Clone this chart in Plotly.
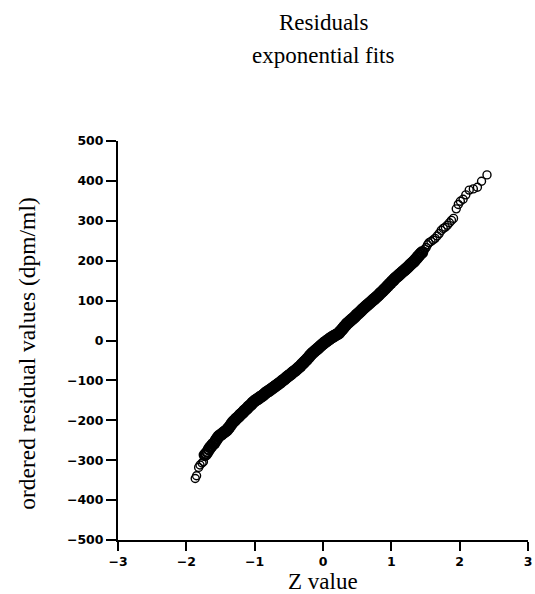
import plotly.graph_objects as go

# Ordered residuals vs normal Z value
z_values = [
    -1.87, -1.85, -1.82, -1.80, -1.77, -1.75,
    -1.73, -1.71, -1.69, -1.67, -1.65, -1.63, -1.61, -1.59, -1.57, -1.55,
    -1.53, -1.51, -1.49, -1.47, -1.45, -1.43, -1.41, -1.39, -1.37, -1.35,
    -1.33, -1.31, -1.29, -1.27, -1.25, -1.23, -1.21, -1.19, -1.17, -1.15,
    -1.13, -1.11, -1.09, -1.07, -1.05, -1.03, -1.01, -0.99, -0.97, -0.95,
    -0.93, -0.91, -0.89, -0.87, -0.85, -0.83, -0.81, -0.79, -0.77, -0.75,
    -0.73, -0.71, -0.69, -0.67, -0.65, -0.63, -0.61, -0.59, -0.57, -0.55,
    -0.53, -0.51, -0.49, -0.47, -0.45, -0.43, -0.41, -0.39, -0.37, -0.35,
    -0.33, -0.31, -0.29, -0.27, -0.25, -0.23, -0.21, -0.19, -0.17, -0.15,
    -0.13, -0.11, -0.09, -0.07, -0.05, -0.03, -0.01, 0.01, 0.03, 0.05,
    0.07, 0.09, 0.11, 0.13, 0.15, 0.17, 0.19, 0.21, 0.23, 0.25,
    0.27, 0.29, 0.31, 0.33, 0.35, 0.37, 0.39, 0.41, 0.43, 0.45,
    0.47, 0.49, 0.51, 0.53, 0.55, 0.57, 0.59, 0.61, 0.63, 0.65,
    0.67, 0.69, 0.71, 0.73, 0.75, 0.77, 0.79, 0.81, 0.83, 0.85,
    0.87, 0.89, 0.91, 0.93, 0.95, 0.97, 0.99, 1.01, 1.03, 1.05,
    1.07, 1.09, 1.11, 1.13, 1.15, 1.17, 1.19, 1.21, 1.23, 1.25,
    1.27, 1.29, 1.31, 1.33, 1.35, 1.37, 1.39, 1.41, 1.43, 1.45,
    1.47, 1.49, 1.51, 1.53, 1.55, 1.58, 1.61, 1.64, 1.67, 1.70,
    1.73, 1.76, 1.79, 1.82, 1.85, 1.88, 1.91, 1.95, 1.98, 2.01,
    2.05, 2.09, 2.14, 2.20, 2.26, 2.32, 2.40,
]
residuals = [
    -346, -339, -318, -312, -307, -304,
    -287, -284, -279, -273, -268, -264, -260, -257, -251, -246,
    -241, -238, -236, -233, -230, -228, -225, -221, -217, -212,
    -207, -203, -200, -196, -193, -190, -186, -183, -180, -176,
    -173, -170, -166, -163, -160, -156, -153, -150, -148, -146,
    -143, -141, -139, -136, -133, -130, -128, -126, -123, -121,
    -118, -116, -113, -111, -108, -106, -103, -100, -98, -95,
    -92, -89, -87, -84, -81, -78, -76, -73, -70, -67,
    -64, -60, -57, -53, -50, -46, -42, -38, -34, -31,
    -28, -25, -22, -19, -16, -13, -10, -7, -4, -2,
    1, 3, 6, 8, 10, 12, 14, 16, 18, 22,
    26, 30, 34, 38, 42, 45, 48, 51, 54, 57,
    60, 64, 67, 70, 73, 77, 80, 83, 86, 89,
    92, 95, 98, 101, 104, 107, 110, 113, 117, 120,
    123, 127, 130, 134, 137, 141, 144, 148, 151, 155,
    158, 161, 164, 167, 170, 173, 176, 179, 182, 185,
    189, 192, 195, 198, 202, 206, 210, 214, 218, 221,
    224, 229, 233, 240, 245, 248, 252, 256, 262, 268,
    276, 281, 284, 289, 295, 301, 306, 330, 341, 349,
    354, 365, 377, 380, 384, 399, 415,
]

x_ticks = [-3, -2, -1, 0, 1, 2, 3]
y_ticks = [-500, -400, -300, -200, -100, 0, 100, 200, 300, 400, 500]

# split into the dense central band and the sparse tails
dense = [(z, r) for z, r in zip(z_values, residuals) if -1.74 < z < 1.46]
tails = [(z, r) for z, r in zip(z_values, residuals) if not (-1.74 < z < 1.46)]

fig = go.Figure()
fig.add_trace(go.Scatter(
    x=[p[0] for p in tails], y=[p[1] for p in tails], mode="markers",
    marker=dict(symbol="circle-open", size=8, color="black",
                line=dict(color="black", width=1.4)),
    showlegend=False, cliponaxis=False,
))
fig.add_trace(go.Scatter(
    x=[p[0] for p in dense], y=[p[1] for p in dense], mode="markers",
    marker=dict(symbol="circle-open", size=10, color="black",
                line=dict(color="black", width=2.4)),
    showlegend=False, cliponaxis=False,
))

tick_font = dict(family="DejaVu Sans", size=12.5, color="black", weight="bold")
serif = "Liberation Serif"


def lab(v):
    return str(v).replace("-", "\u2212")


fig.update_layout(
    width=535, height=594,
    margin=dict(l=118, r=3, t=141, b=54),
    paper_bgcolor="white", plot_bgcolor="white",
    xaxis=dict(range=[-3, 3], tickvals=x_ticks, ticktext=[lab(v) for v in x_ticks],
               showgrid=False, zeroline=False, showline=True, linecolor="black", linewidth=2,
               ticks="outside", ticklen=9, tickwidth=1.5, tickcolor="black",
               tickfont=tick_font, ticklabeloverflow="allow"),
    yaxis=dict(range=[-500, 500], tickvals=y_ticks, ticktext=[lab(v) for v in y_ticks],
               showgrid=False, zeroline=False, showline=True, linecolor="black", linewidth=2,
               ticks="outside", ticklen=10, tickwidth=1.5, tickcolor="black",
               tickfont=tick_font, ticklabeloverflow="allow"),
    annotations=[
        dict(text="Residuals", x=0.5, y=1.298, xref="paper", yref="paper",
             showarrow=False, font=dict(family=serif, size=23, color="black"),
             xanchor="center", yanchor="middle"),
        dict(text="exponential fits", x=0.5, y=1.215, xref="paper", yref="paper",
             showarrow=False, font=dict(family=serif, size=23, color="black"),
             xanchor="center", yanchor="middle"),
        dict(text="Z value", x=0.5, y=-0.103, xref="paper", yref="paper",
             showarrow=False, font=dict(family=serif, size=23, color="black"),
             xanchor="center", yanchor="middle"),
        dict(text="ordered residual values (dpm/ml)", x=-0.222, y=0.469, xref="paper", yref="paper",
             showarrow=False, textangle=-90, font=dict(family=serif, size=23.5, color="black"),
             xanchor="center", yanchor="middle"),
    ],
)

fig.write_html("out.html")
